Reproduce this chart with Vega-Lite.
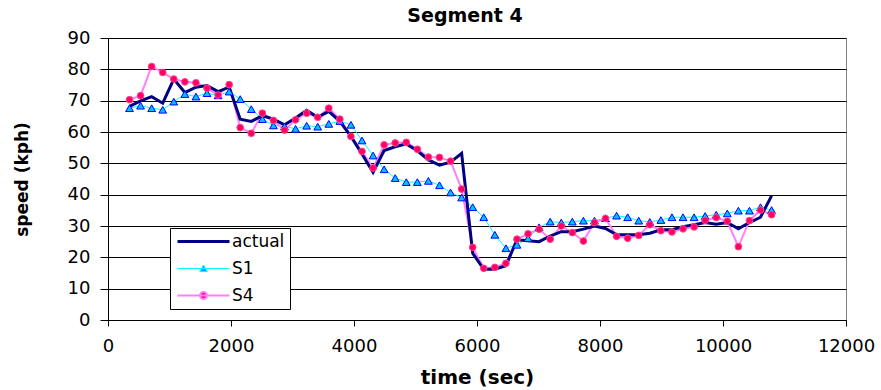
{
  "$schema": "https://vega.github.io/schema/vega-lite/v6.json",
  "width": 738,
  "height": 282,
  "autosize": {"type": "none"},
  "padding": {"left": 108, "top": 38, "right": 35, "bottom": 70},
  "background": "white",
  "title": {"text": "Segment 4", "font": "DejaVu Sans", "fontSize": 19, "fontWeight": "bold", "color": "black", "offset": 3, "dx": -12},
  "data": {"values": [
    {"t": 350, "actual": 68.2, "S1": 67.6, "S4": 70.3},
    {"t": 530, "actual": 69.9, "S1": 68.4, "S4": 71.6},
    {"t": 710, "actual": 71.3, "S1": 67.6, "S4": 80.9},
    {"t": 890, "actual": 69.2, "S1": 67.1, "S4": 79.0},
    {"t": 1070, "actual": 76.9, "S1": 69.7, "S4": 76.9},
    {"t": 1250, "actual": 72.6, "S1": 72.1, "S4": 76.0},
    {"t": 1430, "actual": 74.3, "S1": 71.3, "S4": 75.7},
    {"t": 1610, "actual": 74.8, "S1": 72.4, "S4": 74.0},
    {"t": 1790, "actual": 72.9, "S1": 71.7, "S4": 71.8},
    {"t": 1970, "actual": 74.3, "S1": 72.9, "S4": 75.1},
    {"t": 2150, "actual": 64.1, "S1": 70.5, "S4": 61.4},
    {"t": 2330, "actual": 63.4, "S1": 67.3, "S4": 59.6},
    {"t": 2510, "actual": 65.2, "S1": 64.1, "S4": 66.0},
    {"t": 2690, "actual": 64.1, "S1": 62.1, "S4": 63.7},
    {"t": 2870, "actual": 62.3, "S1": 61.8, "S4": 60.6},
    {"t": 3050, "actual": 64.5, "S1": 61.0, "S4": 63.9},
    {"t": 3230, "actual": 66.9, "S1": 62.0, "S4": 66.0},
    {"t": 3410, "actual": 64.7, "S1": 61.7, "S4": 64.7},
    {"t": 3590, "actual": 66.6, "S1": 62.6, "S4": 67.6},
    {"t": 3770, "actual": 63.4, "S1": 63.5, "S4": 64.1},
    {"t": 3950, "actual": 58.6, "S1": 62.3, "S4": 58.6},
    {"t": 4130, "actual": 53.0, "S1": 57.3, "S4": 53.8},
    {"t": 4310, "actual": 47.1, "S1": 52.5, "S4": 48.5},
    {"t": 4490, "actual": 54.1, "S1": 48.1, "S4": 55.9},
    {"t": 4670, "actual": 55.3, "S1": 45.3, "S4": 56.5},
    {"t": 4850, "actual": 56.2, "S1": 44.0, "S4": 56.7},
    {"t": 5030, "actual": 54.0, "S1": 44.0, "S4": 54.5},
    {"t": 5210, "actual": 51.1, "S1": 44.4, "S4": 52.0},
    {"t": 5390, "actual": 49.4, "S1": 43.0, "S4": 51.9},
    {"t": 5570, "actual": 50.4, "S1": 40.7, "S4": 50.7},
    {"t": 5750, "actual": 53.2, "S1": 39.1, "S4": 41.8},
    {"t": 5930, "actual": 21.3, "S1": 36.0, "S4": 23.2},
    {"t": 6110, "actual": 16.2, "S1": 32.8, "S4": 16.5},
    {"t": 6290, "actual": 16.2, "S1": 27.2, "S4": 16.8},
    {"t": 6470, "actual": 17.3, "S1": 22.9, "S4": 18.1},
    {"t": 6650, "actual": 25.6, "S1": 24.0, "S4": 25.8},
    {"t": 6830, "actual": 25.3, "S1": 26.1, "S4": 27.5},
    {"t": 7010, "actual": 25.0, "S1": 29.6, "S4": 29.0},
    {"t": 7190, "actual": 26.8, "S1": 31.4, "S4": 25.8},
    {"t": 7370, "actual": 28.2, "S1": 31.1, "S4": 30.0},
    {"t": 7550, "actual": 28.2, "S1": 31.4, "S4": 27.9},
    {"t": 7730, "actual": 29.0, "S1": 31.7, "S4": 25.2},
    {"t": 7910, "actual": 30.0, "S1": 31.7, "S4": 31.1},
    {"t": 8090, "actual": 29.2, "S1": 32.5, "S4": 32.4},
    {"t": 8270, "actual": 27.2, "S1": 33.3, "S4": 26.7},
    {"t": 8450, "actual": 27.2, "S1": 32.8, "S4": 26.1},
    {"t": 8630, "actual": 27.2, "S1": 31.7, "S4": 27.0},
    {"t": 8810, "actual": 27.7, "S1": 31.3, "S4": 30.4},
    {"t": 8990, "actual": 28.8, "S1": 31.9, "S4": 28.5},
    {"t": 9170, "actual": 28.8, "S1": 32.8, "S4": 28.1},
    {"t": 9350, "actual": 29.8, "S1": 32.8, "S4": 29.1},
    {"t": 9530, "actual": 30.4, "S1": 32.8, "S4": 29.7},
    {"t": 9710, "actual": 31.1, "S1": 33.2, "S4": 31.8},
    {"t": 9890, "actual": 30.6, "S1": 33.6, "S4": 32.7},
    {"t": 10070, "actual": 31.1, "S1": 34.0, "S4": 31.5},
    {"t": 10250, "actual": 29.1, "S1": 34.9, "S4": 23.4},
    {"t": 10430, "actual": 31.1, "S1": 34.9, "S4": 31.7},
    {"t": 10610, "actual": 32.8, "S1": 36.0, "S4": 35.1},
    {"t": 10790, "actual": 39.6, "S1": 35.1, "S4": 33.6}
  ]},
  "transform": [{"fold": ["actual", "S1", "S4"], "as": ["series", "speed"]}],
  "encoding": {
    "x": {"field": "t", "type": "quantitative",
      "scale": {"domain": [0, 12000], "nice": false, "zero": false},
      "axis": {"title": "time (sec)", "format": "d", "values": [0, 2000, 4000, 6000, 8000, 10000, 12000], "tickSize": 6, "labelPadding": 11, "titlePadding": 12, "titleFontSize": 20, "labelFlush": false}},
    "y": {"field": "speed", "type": "quantitative",
      "scale": {"domain": [0, 90], "nice": false},
      "axis": {"title": "speed (kph)", "values": [0, 10, 20, 30, 40, 50, 60, 70, 80, 90], "grid": true, "tickSize": 8, "labelPadding": 10, "titlePadding": 36, "titleFontSize": 17}}
  },
  "layer": [
    {"transform": [{"filter": "datum.series === 'S1'"}],
     "mark": {"type": "line", "strokeWidth": 1},
     "encoding": {"color": {"field": "series", "type": "nominal",
       "scale": {"domain": ["actual", "S1", "S4"], "range": ["#000080", "#00FFFF", "#FF80FF"]},
       "legend": {
         "orient": "none", "legendX": 62, "legendY": 190, "title": null,
         "labelFont": "DejaVu Sans", "labelFontSize": 17, "labelColor": "black",
         "strokeColor": "#000000", "fillColor": "white", "padding": 5,
         "symbolSize": 100, "symbolOffset": 20, "labelOffset": 20, "rowPadding": 9,
         "encode": {"symbols": {"update": {
           "shape": {"signal": "datum.value === 'actual' ? 'M-5.2,0H5.2' : datum.value === 'S1' ? 'M-5.2,0H5.2M-0.75,0.6L0,-0.7L0.75,0.6Z' : 'M-5.2,0H5.2M-0.7,0A0.7,0.7,0,1,0,0.7,0A0.7,0.7,0,1,0,-0.7,0Z'"},
           "stroke": {"signal": "datum.value === 'actual' ? '#000080' : datum.value === 'S1' ? '#00E5FF' : '#FF80FF'"},
           "fill": {"signal": "datum.value === 'actual' ? 'transparent' : datum.value === 'S1' ? '#00AAFF' : '#FF0066'"},
           "strokeWidth": {"signal": "datum.value === 'actual' ? 3 : datum.value === 'S1' ? 1 : 2"},
           "opacity": {"value": 1}
         }}}
       }}}},
    {"transform": [{"filter": "datum.series === 'S4'"}],
     "mark": {"type": "line", "strokeWidth": 2},
     "encoding": {"color": {"field": "series", "type": "nominal"}}},
    {"transform": [{"filter": "datum.series === 'actual'"}],
     "mark": {"type": "line", "strokeWidth": 3, "strokeJoin": "miter"},
     "encoding": {"color": {"field": "series", "type": "nominal"}}},
    {"transform": [{"filter": "datum.series === 'S1'"}],
     "mark": {"type": "point", "shape": "triangle-up", "filled": true, "fill": "#00BFFF", "stroke": "#0000FF", "strokeWidth": 1, "size": 60, "opacity": 1},
     "encoding": {}},
    {"transform": [{"filter": "datum.series === 'S4'"}],
     "mark": {"type": "point", "shape": "circle", "filled": true, "fill": "#FF0066", "stroke": "#FF4488", "strokeWidth": 1, "size": 45, "opacity": 1},
     "encoding": {}}
  ],
  "config": {
    "view": {"stroke": "#808080", "strokeWidth": 1},
    "axis": {
      "labelFont": "DejaVu Sans", "labelFontSize": 18, "labelColor": "black",
      "titleFont": "DejaVu Sans", "titleFontWeight": "bold", "titleColor": "black",
      "domainColor": "black", "tickColor": "black", "grid": false,
      "gridColor": "#000000", "gridWidth": 1, "gridOpacity": 1
    }
  }
}
